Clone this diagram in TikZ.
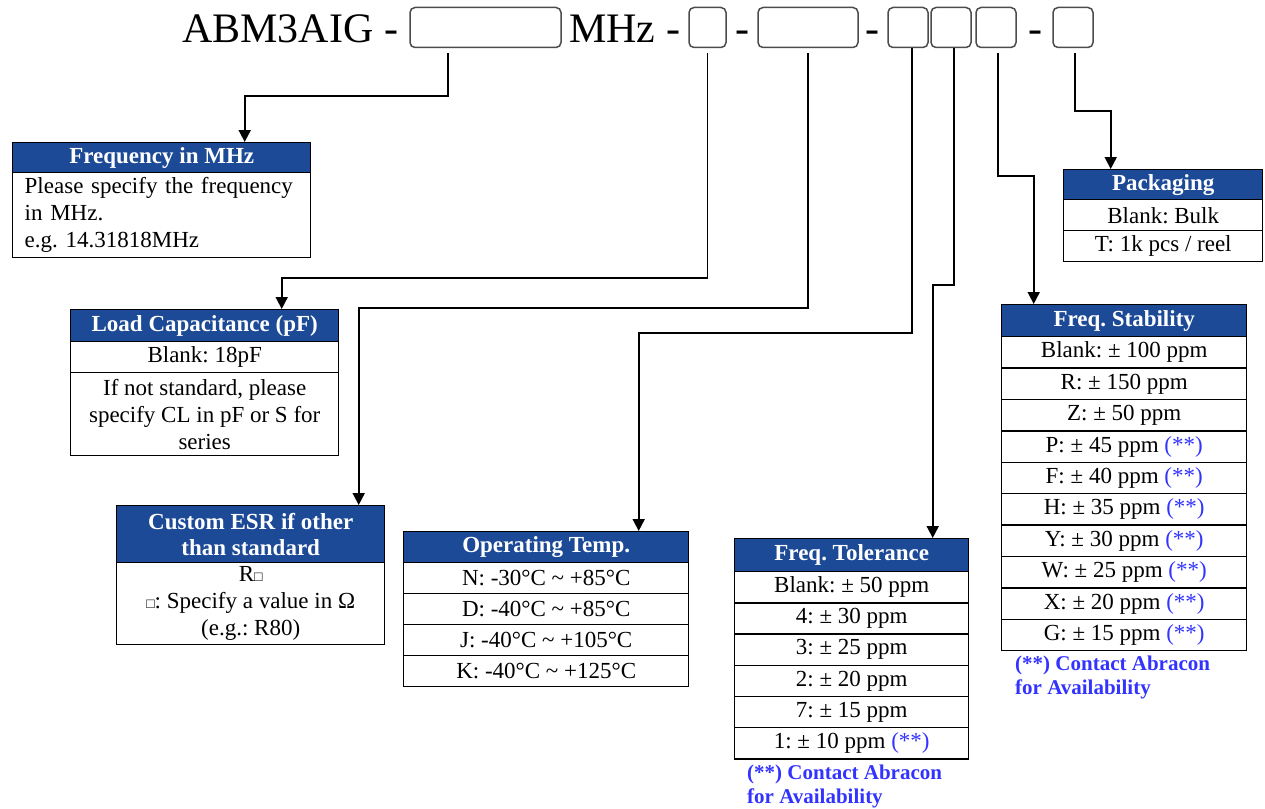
\documentclass[tikz,border=0pt]{standalone}
\usepackage{fontspec}
\setmainfont{Liberation Serif}
\usetikzlibrary{arrows.meta}
\definecolor{hdr}{RGB}{28,74,150}
\definecolor{note}{RGB}{51,51,255}
\newcommand{\nt}[1]{\textcolor{note}{#1}}
\newcommand{\smsq}{{\fontsize{14}{14}\selectfont □}}
\frenchspacing
\begin{document}
\begin{tikzpicture}[x=1pt,y=-1pt,
  slot/.style={draw=black!70, line width=1.5pt, rounded corners=5pt, minimum height=40pt, inner sep=0pt},
  ttl/.style={font=\fontsize{42}{42}\selectfont, inner sep=0pt, anchor=base west},
  cell/.style={draw=black, line width=1.4pt, inner sep=0pt, anchor=north west, align=center, font=\fontsize{23}{27}\selectfont},
  head/.style={cell, fill=hdr, text=white, font=\bfseries\fontsize{23}{26}\selectfont},
  fnote/.style={inner sep=0pt, anchor=base west, text=note, font=\bfseries\fontsize{21}{24}\selectfont},
  conn/.style={line width=1.8pt, -{Triangle[length=12pt,width=12pt]}}
]
\useasboundingbox (0,0) rectangle (1265,808);

% ---- part number line ----
\node[ttl] (t1) at (182,42) {ABM3AIG -};
\node[slot, minimum width=151pt] (b1) at (485.5,27.5) {};
\node[ttl] (t2) at (569,42) {MHz -};
\node[slot, minimum width=37pt] (b2) at (707.5,27.5) {};
\node[ttl, anchor=base] (d1) at (742,42) {-};
\node[slot, minimum width=100pt] (b3) at (808,27.5) {};
\node[ttl, anchor=base] (d2) at (872,42) {-};
\node[slot, minimum width=40pt] (b4) at (908,27.5) {};
\node[slot, minimum width=40pt] (b5) at (951,27.5) {};
\node[slot, minimum width=40pt] (b6) at (996,27.5) {};
\node[ttl, anchor=base] (d3) at (1035,42) {-};
\node[slot, minimum width=40pt] (b7) at (1073,27.5) {};

% ---- Frequency in MHz ----
\node[head, minimum width=298pt, minimum height=30pt] (fh) at (12,142) {Frequency in MHz};
\node[cell, minimum width=298pt, minimum height=85pt, align=left, text width=274pt] (fb) at (12,172)
  {Please specify the frequency\\in MHz.\\e.g. 14.31818MHz};

% ---- Load Capacitance ----
\node[head, minimum width=268pt, minimum height=32pt] (lh) at (70,309) {Load Capacitance (pF)};
\node[cell, minimum width=268pt, minimum height=31pt] (l1) at (70,341) {Blank: 18pF};
\node[cell, minimum width=268pt, minimum height=83pt] (l2) at (70,372)
  {If not standard, please\\specify CL in pF or S for\\series};

% ---- Custom ESR ----
\node[head, minimum width=268pt, minimum height=57pt] (eh) at (116,505) {Custom ESR if other\\than standard};
\node[cell, minimum width=268pt, minimum height=82pt] (e1) at (116,562)
  {R\smsq\\\smsq: Specify a value in Ω\\(e.g.: R80)};

% ---- Operating Temp ----
\node[head, minimum width=285pt, minimum height=31pt] (oh) at (403,531) {Operating Temp.};
\node[cell, minimum width=285pt, minimum height=31pt] (o1) at (403,562) {N: -30°C \char`~{} +85°C};
\node[cell, minimum width=285pt, minimum height=31pt] (o2) at (403,593) {D: -40°C \char`~{} +85°C};
\node[cell, minimum width=285pt, minimum height=31pt] (o3) at (403,624) {J: -40°C \char`~{} +105°C};
\node[cell, minimum width=285pt, minimum height=31pt] (o4) at (403,655) {K: -40°C \char`~{} +125°C};

% ---- Freq. Tolerance ----
\node[head, minimum width=234pt, minimum height=33pt] (th) at (734,538) {Freq. Tolerance};
\node[cell, minimum width=234pt, minimum height=31.2pt] (r1) at (734,571) {Blank: ± 50 ppm};
\node[cell, minimum width=234pt, minimum height=31.2pt] (r2) at (734,602.2) {4: ± 30 ppm};
\node[cell, minimum width=234pt, minimum height=31.2pt] (r3) at (734,633.4) {3: ± 25 ppm};
\node[cell, minimum width=234pt, minimum height=31.2pt] (r4) at (734,664.6) {2: ± 20 ppm};
\node[cell, minimum width=234pt, minimum height=31.2pt] (r5) at (734,695.8) {7: ± 15 ppm};
\node[cell, minimum width=234pt, minimum height=31.2pt] (r6) at (734,727) {1: ± 10 ppm \nt{(**)}};
\node[fnote] (tn1) at (747,779) {(**) Contact Abracon};
\node[fnote] (tn2) at (747,803) {for Availability};

% ---- Freq. Stability ----
\node[head, minimum width=245pt, minimum height=32pt] (sh) at (1001,304) {Freq. Stability};
\node[cell, minimum width=245pt, minimum height=31.4pt] (s1) at (1001,336) {Blank: ± 100 ppm};
\node[cell, minimum width=245pt, minimum height=31.4pt] (s2) at (1001,367.4) {R: ± 150 ppm};
\node[cell, minimum width=245pt, minimum height=31.4pt] (s3) at (1001,398.8) {Z: ± 50 ppm};
\node[cell, minimum width=245pt, minimum height=31.4pt] (s4) at (1001,430.2) {P: ± 45 ppm \nt{(**)}};
\node[cell, minimum width=245pt, minimum height=31.4pt] (s5) at (1001,461.6) {F: ± 40 ppm \nt{(**)}};
\node[cell, minimum width=245pt, minimum height=31.4pt] (s6) at (1001,493) {H: ± 35 ppm \nt{(**)}};
\node[cell, minimum width=245pt, minimum height=31.4pt] (s7) at (1001,524.4) {Y: ± 30 ppm \nt{(**)}};
\node[cell, minimum width=245pt, minimum height=31.4pt] (s8) at (1001,555.8) {W: ± 25 ppm \nt{(**)}};
\node[cell, minimum width=245pt, minimum height=31.4pt] (s9) at (1001,587.2) {X: ± 20 ppm \nt{(**)}};
\node[cell, minimum width=245pt, minimum height=31.4pt] (s10) at (1001,618.6) {G: ± 15 ppm \nt{(**)}};
\node[fnote] (sn1) at (1015,670) {(**) Contact Abracon};
\node[fnote] (sn2) at (1015,694) {for Availability};

% ---- Packaging ----
\node[head, minimum width=199pt, minimum height=30pt] (ph) at (1063,169) {Packaging};
\node[cell, minimum width=199pt, minimum height=31pt] (p1) at (1063,199) {Blank: Bulk};
\node[cell, minimum width=199pt, minimum height=31pt] (p2) at (1063,230) {T: 1k pcs / reel};

% ---- connectors ----
\draw[conn] ([xshift=-37.5pt,yshift=-5pt]b1.south) -- ++(0,43) -| ([xshift=83pt]fh.north);
\draw[conn] ([yshift=-5pt]b2.south) -- ++(0,225) -| ([xshift=77pt]lh.north);
\draw[conn] ([yshift=-5pt]b3.south) -- ++(0,255) -| ([xshift=108pt]eh.north);
\draw[conn] ([xshift=4pt]b4.south) -- ++(0,285) -| ([xshift=92.5pt]oh.north);
\draw[conn] ([xshift=3pt]b5.south) -- ++(0,237) -| ([xshift=81pt]th.north);
\draw[conn] ([xshift=2pt,yshift=-5pt]b6.south) -- ++(0,122.5) -| ([xshift=-90.5pt]sh.north);
\draw[conn] ([xshift=2pt,yshift=-5pt]b7.south) -- ++(0,57.5) -| ([xshift=-52.5pt]ph.north);
\end{tikzpicture}
\end{document}
